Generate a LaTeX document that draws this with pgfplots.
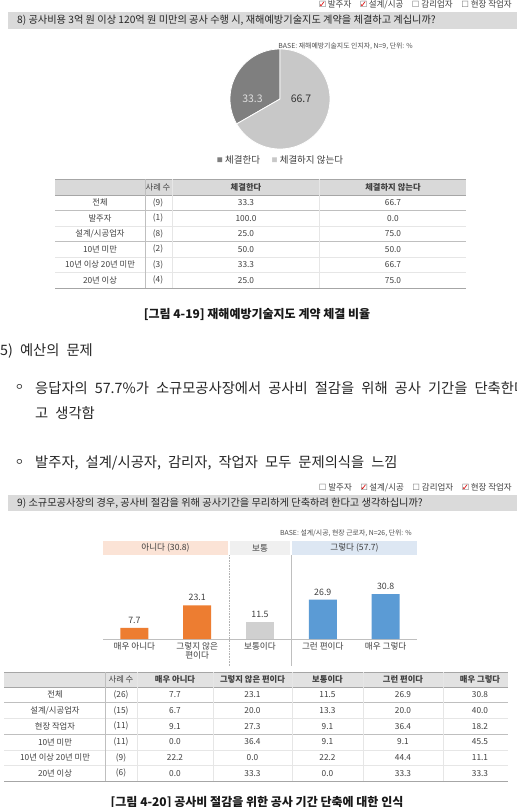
\documentclass[border=0pt]{standalone}
\usepackage{fontspec}
\setmainfont{Noto Sans CJK KR}
\newfontfamily\body[WordSpace=2.2]{Noto Sans CJK KR}
\newfontfamily\sym{DejaVu Sans}
\usepackage{pgfplots}
\pgfplotsset{compat=1.18}
\usepgfplotslibrary{polar}
\definecolor{txt}{HTML}{404040}
\definecolor{hdr}{HTML}{D9D9D9}
\definecolor{hdrB}{HTML}{E2E2E2}
\definecolor{titlebar}{HTML}{DADADA}
\definecolor{pieDark}{HTML}{7F7F7F}
\definecolor{pieLight}{HTML}{C8C8C8}
\definecolor{orng}{HTML}{ED7D31}
\definecolor{bgray}{HTML}{D0D0D0}
\definecolor{blu}{HTML}{5B9BD5}
\definecolor{bandO}{HTML}{FBE3D6}
\definecolor{bandG}{HTML}{F0F0F0}
\definecolor{bandB}{HTML}{DDE7F3}
\definecolor{lnDark}{HTML}{A6A6A6}
\definecolor{lnMid}{HTML}{BFBFBF}
\definecolor{lnLight}{HTML}{E6E6E6}
\newcommand\fs[1]{\fontsize{#1}{#1}\selectfont}
\newcommand\unchk{{\sym\color{black!55}☐}}
\newcommand\chk{\makebox[0pt][l]{\sym\color{black!55}☐}{\sym\color{red!85!black}✓}}
\begin{document}
\begin{tikzpicture}
\path[use as bounding box] (0,0) rectangle (517pt,-807pt);
\clip (0,0) rectangle (517pt,-807pt);
\fill[white] (0,0) rectangle (517pt,-807pt);
\begin{scope}[x=1pt,y=-1pt,every node/.style={inner sep=0pt,text=txt}]
% ---------- part 1 ----------
\node[anchor=east,font=\fs{8.5}] at (512,5) {\chk\ 발주자\quad\chk\ 설계/시공\quad\unchk\ 감리업자\quad\unchk\ 현장 작업자};
\fill[titlebar] (8,12) rectangle (517,29);
\node[anchor=west,font=\fs{10.2},text=black!85] at (17,20.5) {8) 공사비용 3억 원 이상 120억 원 미만의 공사 수행 시, 재해예방기술지도 계약을 체결하고 계십니까?};
\node[anchor=east,font=\fs{6.9},text=black!70] at (413,46) {BASE: 재해예방기술지도 인지자, N=9, 단위: \%};
% legend
\node[anchor=center,font=\fs{9.5}] at (280,160) {{\color{pieDark}\fs{6}\raisebox{1pt}{■}} 체결한다\quad\ {\color{pieLight}\fs{6}\raisebox{1pt}{■}} 체결하지 않는다};
% table 1
\fill[hdr] (55,179) rectangle (466,195);
\draw[lnDark,line width=0.6pt] (55,179) -- (466,179);
\draw[lnDark,line width=0.6pt] (55,195) -- (466,195);
\foreach \k in {2,4,5} \draw[lnLight,line width=0.5pt] (55,195+15.5*\k) -- (466,195+15.5*\k);
\foreach \k in {1,3} \draw[lnMid,line width=0.6pt] (55,195+15.5*\k) -- (466,195+15.5*\k);
\draw[lnDark,line width=0.6pt] (55,288) -- (466,288);
\draw[lnMid,line width=0.6pt] (145,179) -- (145,288);
\draw[lnLight,line width=0.6pt] (172,179) -- (172,288);
\draw[lnLight,line width=0.6pt] (319,179) -- (319,288);
\begin{scope}[every node/.append style={font=\fs{8.3}}]
\node at (158,187) {사례 수};
\node[font=\fs{8.3}\bfseries] at (246,187) {체결한다};
\node[font=\fs{8.3}\bfseries] at (393,187) {체결하지 않는다};
\foreach \lab/\n/\a/\b [count=\i from 0] in {전체/(9)/33.3/66.7, 발주자/(1)/100.0/0.0, {설계/시공업자}/(8)/25.0/75.0, 10년 미만/(2)/50.0/50.0, 10년 이상 20년 미만/(3)/33.3/66.7, 20년 이상/(4)/25.0/75.0}{
  \node at (100,202.75+15.5*\i) {\lab};
  \node at (158,202.75+15.5*\i) {\n};
  \node at (246,202.75+15.5*\i) {\a};
  \node at (393,202.75+15.5*\i) {\b};
}
\end{scope}
\node[font=\fs{12}\bfseries,text=black!90] at (257,314) {[그림 4-19] 재해예방기술지도 계약 체결 비율};
% ---------- body ----------
\node[anchor=west,font=\body\fs{14.3},text=black!85] at (0,351) {5) 예산의 문제};
\node[anchor=west,font=\fs{9.5},text=black!85] at (15,388) {ㅇ};
\node[anchor=west,font=\body\fs{14.3},text=black!85] at (35,388) {응답자의 57.7\%가 소규모공사장에서 공사비 절감을 위해 공사 기간을 단축한다};
\node[anchor=west,font=\body\fs{14.3},text=black!85] at (35,413) {고 생각함};
\node[anchor=west,font=\fs{9.5},text=black!85] at (15,463) {ㅇ};
\node[anchor=west,font=\body\fs{14.3},text=black!85] at (35,463) {발주자, 설계/시공자, 감리자, 작업자 모두 문제의식을 느낌};
% ---------- part 2 ----------
\node[anchor=east,font=\fs{8.5}] at (512,488) {\unchk\ 발주자\quad\chk\ 설계/시공\quad\unchk\ 감리업자\quad\chk\ 현장 작업자};
\fill[titlebar] (8,495) rectangle (517,511);
\node[anchor=west,font=\fs{10.2},text=black!85] at (17,503) {9) 소규모공사장의 경우, 공사비 절감을 위해 공사기간을 무리하게 단축하려 한다고 생각하십니까?};
\node[anchor=east,font=\fs{6.9},text=black!70] at (412,533) {BASE: 설계/시공, 현장 근로자, N=26, 단위: \%};
\fill[bandO] (103,541) rectangle (228,555);
\fill[bandG] (230,541) rectangle (290,555);
\fill[bandB] (292,541) rectangle (417,555);
\node[font=\fs{8.6}] at (165.5,548) {아니다 (30.8)};
\node[font=\fs{8.6}] at (260,548) {보통};
\node[font=\fs{8.6}] at (354.5,548) {그렇다 (57.7)};
\draw[black!30,densely dotted,line width=0.6pt] (229,555) -- (229,666);
\draw[black!25,line width=0.6pt] (291,555) -- (291,666);
% table 2
\fill[hdrB] (4,672) rectangle (508,687);
\draw[lnDark,line width=0.6pt] (4,672) -- (508,672);
\draw[lnDark,line width=0.6pt] (4,687) -- (508,687);
\foreach \k in {2,4,5} \draw[lnLight,line width=0.5pt] (4,687+15.7*\k) -- (508,687+15.7*\k);
\foreach \k in {1,3} \draw[lnMid,line width=0.6pt] (4,687+15.7*\k) -- (508,687+15.7*\k);
\draw[lnDark,line width=0.6pt] (4,781) -- (508,781);
\draw[lnMid,line width=0.6pt] (105,672) -- (105,781);
\foreach \xx in {137,213,292,363,443} \draw[lnLight,line width=0.6pt] (\xx,672) -- (\xx,781);
\begin{scope}[every node/.append style={font=\fs{8.3}}]
\node at (121,679.5) {사례 수};
\node[font=\fs{8.3}\bfseries] at (175,679.5) {매우 아니다};
\node[font=\fs{8.3}\bfseries] at (252.5,679.5) {그렇지 않은 편이다};
\node[font=\fs{8.3}\bfseries] at (327.5,679.5) {보통이다};
\node[font=\fs{8.3}\bfseries] at (403,679.5) {그런 편이다};
\node[font=\fs{8.3}\bfseries] at (480,679.5) {매우 그렇다};
\foreach \lab/\n/\a/\b/\c/\d/\e [count=\i from 0] in {전체/(26)/7.7/23.1/11.5/26.9/30.8, {설계/시공업자}/(15)/6.7/20.0/13.3/20.0/40.0, 현장 작업자/(11)/9.1/27.3/9.1/36.4/18.2, 10년 미만/(11)/0.0/36.4/9.1/9.1/45.5, 10년 이상 20년 미만/(9)/22.2/0.0/22.2/44.4/11.1, 20년 이상/(6)/0.0/33.3/0.0/33.3/33.3}{
  \node at (55,694.85+15.7*\i) {\lab};
  \node at (121,694.85+15.7*\i) {\n};
  \node at (175,694.85+15.7*\i) {\a};
  \node at (252.5,694.85+15.7*\i) {\b};
  \node at (327.5,694.85+15.7*\i) {\c};
  \node at (403,694.85+15.7*\i) {\d};
  \node at (480,694.85+15.7*\i) {\e};
}
\end{scope}
\node[font=\fs{12}\bfseries,text=black!90] at (257,802) {[그림 4-20] 공사비 절감을 위한 공사 기간 단축에 대한 인식};
\end{scope}
% ---------- pie ----------
\begin{polaraxis}[at={(280pt,-99pt)}, anchor=center, scale only axis, width=100pt, height=100pt,
  hide axis, ymin=0, ymax=1, clip=false]
\addplot[fill=pieDark, draw=white, line width=0.8pt, domain=90:209.88, samples=60] {1} -- (axis cs:0,0) -- cycle;
\addplot[fill=pieLight, draw=white, line width=0.8pt, domain=209.88:450, samples=120] {1} -- (axis cs:0,0) -- cycle;
\node[font=\fs{10.5},text=black!12] at (axis cs:180,0.55) {33.3};
\node[font=\fs{10.5},text=black!80] at (axis cs:0,0.42) {66.7};
\end{polaraxis}
% ---------- bars ----------
\begin{axis}[at={(103pt,-639pt)}, anchor=south west, scale only axis, width=314pt, height=84pt,
  xmin=-0.5, xmax=4.5, ymin=0, ymax=57.5, ybar, bar width=28pt,
  axis x line=bottom, axis y line=none, x axis line style={draw=black!25,-},
  xtick={0,1,2,3,4}, major tick length=0pt,
  xticklabels={매우 아니다, {그렇지 않은\\편이다}, 보통이다, 그런 편이다, 매우 그렇다},
  xticklabel style={align=center, font=\fs{8.6}, text=txt, yshift=0pt},
  nodes near coords={\pgfmathprintnumber[fixed,fixed zerofill,precision=1,assume math mode=true]{\pgfplotspointmeta}},
  every node near coord/.append style={font=\fs{8.8}, text=txt, yshift=1pt},
  clip=false]
\addplot[fill=orng, draw=none, bar shift=0pt] coordinates {(0,7.7) (1,23.1)};
\addplot[fill=bgray, draw=none, bar shift=0pt] coordinates {(2,11.5)};
\addplot[fill=blu, draw=none, bar shift=0pt] coordinates {(3,26.9) (4,30.8)};
\end{axis}
\end{tikzpicture}
\end{document}
